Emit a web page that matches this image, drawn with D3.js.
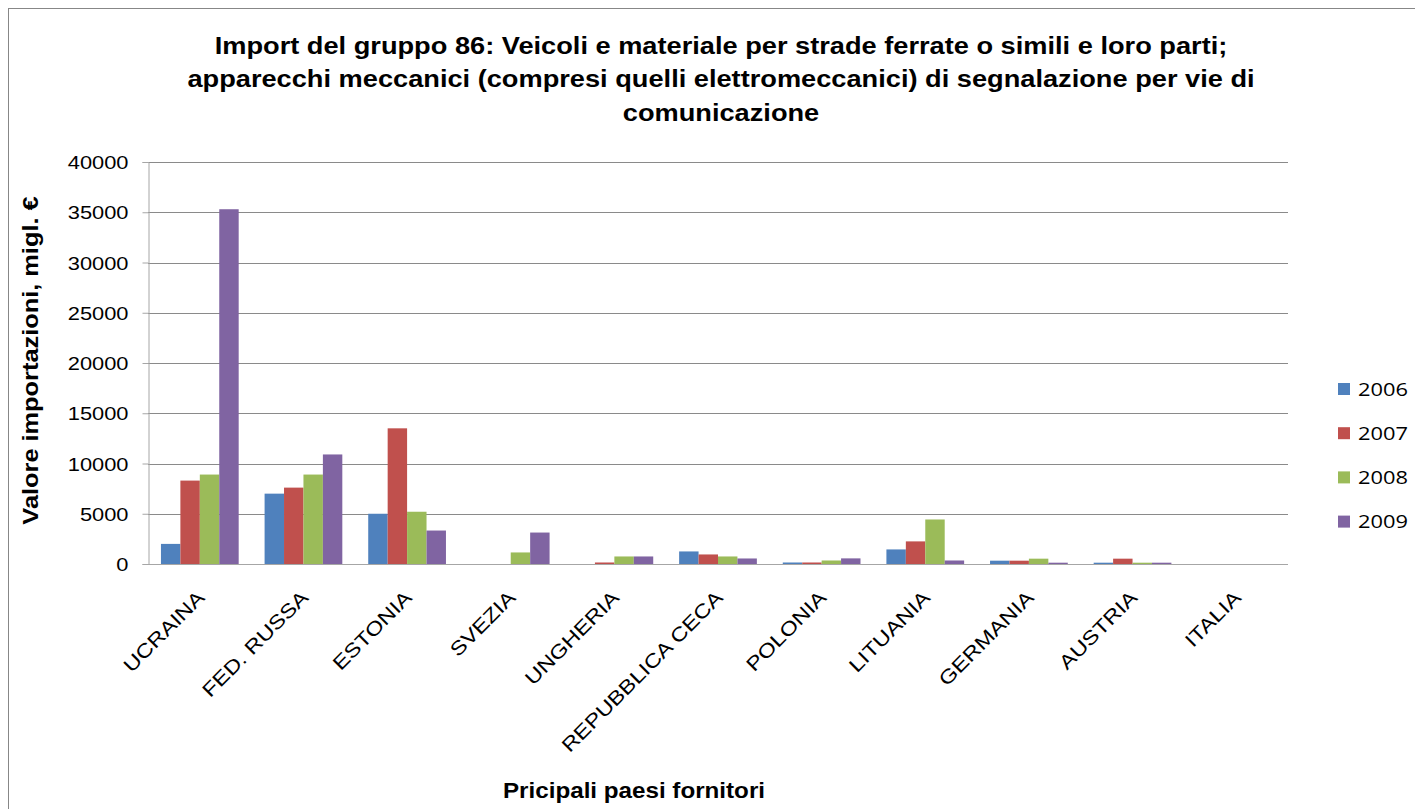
<!DOCTYPE html>
<html>
<head>
<meta charset="utf-8">
<script src="https://cdn.jsdelivr.net/npm/d3@7"></script>
<style>
  body { margin: 0; background: #fff; }
  svg { display: block; }
  text { font-family: Arial, "Liberation Sans", sans-serif; fill: #000; }
</style>
</head>
<body>
<div class="canvas"></div>
<script>
// Chart data
const countries = ["UCRAINA", "FED. RUSSA", "ESTONIA", "SVEZIA", "UNGHERIA", "REPUBBLICA CECA",
                   "POLONIA", "LITUANIA", "GERMANIA", "AUSTRIA", "ITALIA"];
const years = ["2006", "2007", "2008", "2009"];
const v2006 = [2000, 7000, 5000, 0, 0, 1250, 150, 1450, 330, 130, 0];
const v2007 = [8300, 7600, 13500, 0, 150, 950, 150, 2250, 330, 530, 0];
const v2008 = [8900, 8900, 5200, 1150, 750, 750, 350, 4430, 530, 130, 0];
const v2009 = [35300, 10900, 3330, 3130, 750, 550, 560, 350, 130, 130, 0];
const yTicks = [0, 5000, 10000, 15000, 20000, 25000, 30000, 35000, 40000];
const titleLines = [
    "Import del gruppo 86: Veicoli e materiale per strade ferrate o simili e loro parti;",
    "apparecchi meccanici (compresi quelli elettromeccanici) di segnalazione per vie di",
    "comunicazione"
];
const colors = ["#4F81BD", "#C0504D", "#9BBB59", "#8064A2"];

const series = [v2006, v2007, v2008, v2009];

const W = 1415, H = 809;
const plot = { left: 148, right: 1288, top: 162, bottom: 564 };

const svg = d3.select(".canvas")
    .append("svg")
    .attr("width", W)
    .attr("height", H);

// outer frame
svg.append("rect")
    .attr("x", 8.5).attr("y", 8.5)
    .attr("width", W + 20).attr("height", H + 20)
    .attr("fill", "none")
    .attr("stroke", "#878787");

// Scales
const x0 = d3.scaleBand()
    .domain(countries)
    .range([plot.left, plot.right])
    .paddingInner(0.25)
    .paddingOuter(0.125);

const x1 = d3.scaleBand()
    .domain(years)
    .range([0, x0.bandwidth()]);

const y = d3.scaleLinear()
    .domain([0, 40000])
    .range([plot.bottom, plot.top]);

// text in the reference runs wider than plain Arial, so widen it along its baseline
function stretched(sel, x, yy, sx, rot) {
    return sel.attr("transform", `translate(${x},${yy})` + (rot ? ` rotate(${rot})` : "") + ` scale(${sx},1)`);
}

// Gridlines
svg.append("g")
    .selectAll("line")
    .data(yTicks.filter(d => d > 0))
    .enter().append("line")
    .attr("x1", plot.left)
    .attr("x2", plot.right)
    .attr("y1", d => Math.round(y(d)) + 0.5)
    .attr("y2", d => Math.round(y(d)) + 0.5)
    .attr("stroke", "#8a8a8a")
    .attr("stroke-width", 1);

// Y axis
const yAxis = svg.append("g")
    .attr("transform", `translate(${plot.left + 0.5},0)`)
    .call(d3.axisLeft(y).tickValues(yTicks).tickSize(6).tickFormat(d3.format("d")));
yAxis.select(".domain").attr("stroke", "#a6a6a6");
yAxis.selectAll(".tick line").attr("stroke", "#a6a6a6");
yAxis.selectAll(".tick text").remove();
yAxis.selectAll(".tick")
    .append("text")
    .attr("text-anchor", "end")
    .attr("dy", "0.35em")
    .style("font-size", "19px")
    .each(function () {
        stretched(d3.select(this), -20, 0, 1.15);
    })
    .text(d => d);

// Bars
const groups = svg.append("g")
    .selectAll("g")
    .data(countries)
    .enter().append("g")
    .attr("transform", d => `translate(${x0(d)},0)`);

groups.selectAll("rect")
    .data((d, i) => series.map((s, k) => ({ year: years[k], value: s[i], k: k })))
    .enter().append("rect")
    .attr("x", d => x1(d.year))
    .attr("width", x1.bandwidth())
    .attr("y", d => y(d.value))
    .attr("height", d => y(0) - y(d.value))
    .attr("fill", d => colors[d.k]);

// X axis line
svg.append("line")
    .attr("x1", plot.left)
    .attr("x2", plot.right)
    .attr("y1", plot.bottom + 0.5)
    .attr("y2", plot.bottom + 0.5)
    .attr("stroke", "#a6a6a6");

// Category labels, rotated
svg.append("g")
    .selectAll("text")
    .data(countries)
    .enter().append("text")
    .attr("text-anchor", "end")
    .style("font-size", "19.5px")
    .each(function (d) {
        stretched(d3.select(this), x0(d) + x0.bandwidth() / 2 + 6, plot.bottom + 35, 1.2, -45);
    })
    .text(d => d);

// Title
svg.append("g")
    .selectAll("text")
    .data(titleLines)
    .enter().append("text")
    .attr("text-anchor", "middle")
    .style("font-size", "24px")
    .style("font-weight", "bold")
    .each(function (d, i) {
        stretched(d3.select(this), 721, 53.5 + i * 33.5, 1.134);
    })
    .text(d => d);

// Axis titles
stretched(svg.append("text"), 38, 360.5, 1.18, -90)
    .attr("text-anchor", "middle")
    .style("font-size", "21.5px")
    .style("font-weight", "bold")
    .text("Valore importazioni, migl. €");

stretched(svg.append("text"), 634, 798, 1.1)
    .attr("text-anchor", "middle")
    .style("font-size", "22px")
    .style("font-weight", "bold")
    .text("Pricipali paesi fornitori");

// Legend
const legend = svg.append("g")
    .selectAll("g")
    .data(years)
    .enter().append("g")
    .attr("transform", (d, i) => `translate(1338,${389 + i * 44.2})`);

legend.append("rect")
    .attr("x", 0).attr("y", -6)
    .attr("width", 12).attr("height", 12)
    .attr("fill", (d, i) => colors[i]);

legend.append("text")
    .attr("dy", "0.35em")
    .style("font-size", "19px")
    .style("font-family", "'Open Sans', sans-serif")
    .each(function () {
        stretched(d3.select(this), 20, 0, 1.15);
    })
    .text(d => d);
</script>
</body>
</html>
